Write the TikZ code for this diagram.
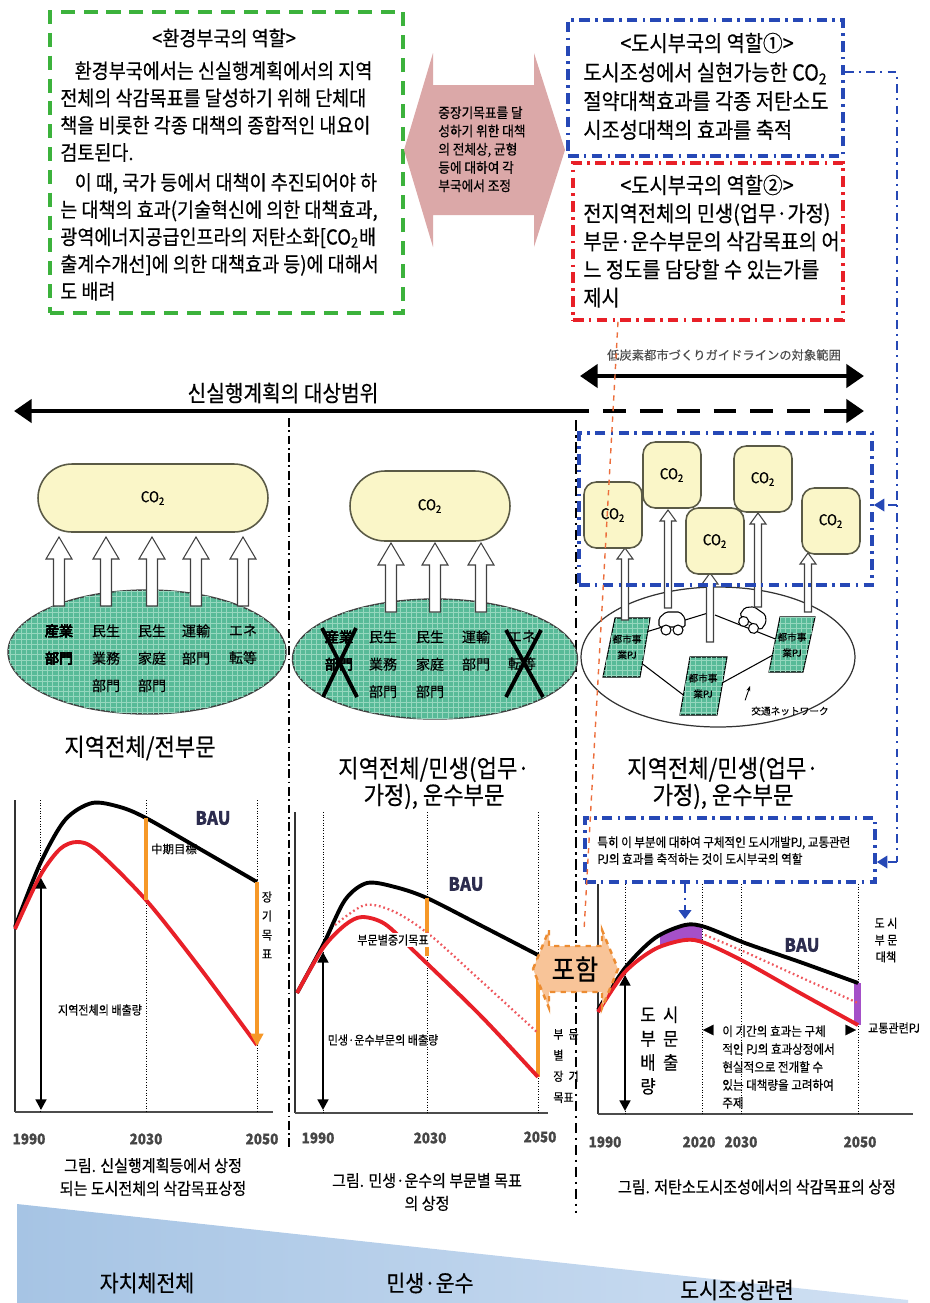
\documentclass[tikz,border=0pt]{standalone}
\usepackage{fontspec}
\setmainfont{Noto Sans CJK KR}[FakeStretch=0.9, FakeBold=0.4]
\newfontfamily\jpfont{Noto Sans CJK JP}[FakeBold=0.3]
\usetikzlibrary{arrows.meta,positioning,fit,shapes.geometric,shapes.misc,patterns}

\definecolor{envgreen}{RGB}{60,178,60}
\definecolor{cityblue}{RGB}{38,72,182}
\definecolor{cityred}{RGB}{232,32,40}
\definecolor{adjpink}{RGB}{219,168,168}
\definecolor{sectorgreen}{RGB}{88,186,152}
\definecolor{sectorgrid}{RGB}{150,215,190}
\definecolor{co2fill}{RGB}{250,246,200}
\definecolor{co2line}{RGB}{90,90,70}
\definecolor{goal}{RGB}{246,152,40}
\definecolor{measure}{RGB}{165,80,200}
\definecolor{incl}{RGB}{248,196,152}
\definecolor{incledge}{RGB}{236,140,50}
\definecolor{linkorange}{RGB}{236,110,60}
\definecolor{baulabel}{RGB}{44,44,78}
\definecolor{yeargrey}{RGB}{70,70,70}
\definecolor{bandleft}{RGB}{166,196,228}
\definecolor{bandright}{RGB}{208,224,243}

\newcommand*{\fsz}[2]{\fontsize{#1}{#2}\selectfont}
% white block arrow pointing up: x, foot y, tip y, half shaft, half head, head length
\newcommand*{\blockup}[6]{%
  \draw[fill=white, draw=black!75, line width=0.6pt]
    (#1-#4,#2) -- (#1-#4,#3+#6) -- (#1-#5,#3+#6) -- (#1,#3)
    -- (#1+#5,#3+#6) -- (#1+#4,#3+#6) -- (#1+#4,#2) -- cycle;}
% small car: x, y, angle
\newcommand*{\caricon}[3]{%
  \begin{scope}[shift={(#1,#2)}, rotate=#3]
    \draw[fill=white, line width=0.6pt, rounded corners=1pt]
      (-13,3) -- (-13,-6) -- (-6,-12) -- (8,-12) -- (13,-6) -- (13,3) -- cycle;
    \draw[fill=white, line width=0.6pt] (-6,6) circle[radius=5] (6,6) circle[radius=5];
  \end{scope}}

\tikzset{
  envbox/.style={draw=envgreen, line width=2.2pt, dash pattern=on 8pt off 5pt, inner sep=0pt},
  citybox/.style={line width=2pt, dash pattern=on 6pt off 3pt on 1.5pt off 3pt, inner sep=0pt},
  rail/.style={draw=cityblue, line width=1.4pt, dash pattern=on 5pt off 3pt on 1.2pt off 3pt},
  para/.style={inner sep=0pt, anchor=north west, align=left},
  capsule/.style={rounded rectangle, draw=co2line, fill=co2fill, line width=0.9pt, inner sep=0pt, font=\fsz{8.5}{9}},
  co2cell/.style={draw=co2line, fill=co2fill, line width=0.9pt, rounded corners=7pt,
    minimum width=1.16cm, minimum height=1.32cm, inner sep=0pt, font=\fsz{8.5}{9}},
  sector/.style={ellipse, draw=black!75, line width=0.8pt, fill=sectorgreen,
    postaction={pattern=grid, pattern color=sectorgrid}, inner sep=0pt},
  jplbl/.style={font=\jpfont\fsz{8}{15.6}, align=center, inner sep=0pt, anchor=north},
  pjlbl/.style={font=\jpfont\fsz{5.5}{9}, align=center, inner sep=0pt},
  rangearrow/.style={line width=2.8pt, {Triangle[length=10pt,width=13pt]}-{Triangle[length=10pt,width=13pt]}},
  bauline/.style={line width=2.2pt},
  cutline/.style={cityred, line width=2.2pt},
  cutdots/.style={cityred!75, line width=1.3pt, dash pattern=on 1pt off 1.6pt},
  dbl/.style={line width=1.6pt, {Triangle[length=6pt,width=6pt]}-{Triangle[length=6pt,width=6pt]}},
  goalbar/.style={draw=goal, line width=2.4pt},
  yearguide/.style={densely dotted, line width=0.5pt},
  yearlbl/.style={font=\bfseries\fsz{8.5}{9}, text=yeargrey},
  baulbl/.style={font=\bfseries\fsz{10.5}{11}, text=baulabel},
  smalllbl/.style={font=\fsz{7}{10}, inner sep=1pt, align=center},
  figcap/.style={font=\fsz{9.5}{13}, align=center},
  sectionlbl/.style={font=\fsz{14}{15.3}, align=center},
  net/.style={line width=0.6pt},
}

\begin{document}
\begin{tikzpicture}[x=0.02cm, y=-0.02cm]
\useasboundingbox (0,0) rectangle (930,1303);

% bottom band
\shade[left color=bandleft, right color=bandright] (17,1204) -- (908,1300) -- (908,1303) -- (17,1303) -- cycle;
\node[font=\fsz{13}{14}] (lvlall) at (147,1283) {자치체전체};
\node[font=\fsz{13}{14}] (lvlres) at (430,1283) {민생·운수};
\node[font=\fsz{13}{14}] (lvlcity) at (737,1290) {도시조성관련};

% role of the environment department
\node[envbox, fit={(50,12) (403,313)}] (envrole) {};
\node[font=\fsz{11.7}{12}] (envtitle) at (224,38) {<환경부국의 역할>};
\node[para, font=\fsz{11.7}{15.5}] (envtext) at (60,61) {%
  \hspace*{0.7em}환경부국에서는 신실행계획에서의 지역\\
  전체의 삭감목표를 달성하기 위해 단체대\\
  책을 비롯한 각종 대책의 종합적인 내요이\\
  검토된다.\\[1.5pt]
  \hspace*{0.7em}이 때, 국가 등에서 대책이 추진되어야 하\\
  는 대책의 효과(기술혁신에 의한 대책효과,\\
  광역에너지공급인프라의 저탄소화[CO\textsubscript{2}배\\
  출계수개선]에 의한 대책효과 등)에 대해서\\
  도 배려};

% coordination arrow
\fill[adjpink] (404,150) -- (433,53) -- (433,85) -- (534,85) -- (534,53) -- (565,150)
  -- (534,247) -- (534,215) -- (433,215) -- (433,247) -- cycle;
\node[para, font=\fsz{8}{10.4}] (adjtext) at (438,106) {중장기목표를 달\\성하기 위한 대책\\의 전체상, 균형\\등에 대하여 각\\부국에서 조정};

% roles of the city department
\node[citybox, draw=cityblue, fit={(568,20) (843,156)}] (roleone) {};
\node[font=\fsz{12.5}{13}] (onetitle) at (707,43) {<도시부국의 역할①>};
\node[para, font=\fsz{12.5}{16.4}] (onetext) at (583,62) {도시조성에서 실현가능한 CO\textsubscript{2}\\절약대책효과를 각종 저탄소도\\시조성대책의 효과를 축적};
\node[citybox, draw=cityred, fit={(573,163) (843,320)}] (roletwo) {};
\node[font=\fsz{12.5}{13}] (twotitle) at (707,185) {<도시부국의 역할②>};
\node[para, font=\fsz{12.5}{16}] (twotext) at (583,203) {전지역전체의 민생(업무·가정)\\부문·운수부문의 삭감목표의 어\\느 정도를 담당할 수 있는가를\\제시};

% target ranges
\node[font=\jpfont\fsz{7}{8}, text=black!70] (guidelbl) at (724,355) {低炭素都市づくりガイドラインの対象範囲};
\coordinate (guideL) at (580,376);
\coordinate (guideR) at (864,376);
\draw[rangearrow] (guideL) -- (guideR);
\node[font=\fsz{12.8}{14}] (planlbl) at (283,393) {신실행계획의 대상범위};
\coordinate (planL) at (14,411);
\coordinate (planM) at (566,411);
\coordinate (planR) at (864,411);
\draw[line width=2.8pt, {Triangle[length=10pt,width=13pt]}-] (planL) -- (planM);
\draw[line width=2.8pt, dash pattern=on 13pt off 8pt, -{Triangle[length=10pt,width=13pt]}] (planM) -- (planR);

% column dividers
\draw[line width=1pt, dash pattern=on 5pt off 2pt on 1pt off 2pt] (289,418) -- (289,1150);
\draw[line width=1.6pt, dash pattern=on 6pt off 2.5pt on 1.5pt off 2.5pt] (576,420) -- (576,1213);

% all sectors
\node[capsule, minimum width=4.6cm, minimum height=1.36cm] (co2all) at (153,498) {CO\textsubscript{2}};
\node[sector, minimum width=5.56cm, minimum height=2.48cm] (secall) at (147,652) {};
\foreach \x in {59,106,152,196,243}
  \blockup{\x}{606}{537}{5.5}{13}{22}
\node[jplbl] (a1) at (59,624) {産業\\部門};
\node[jplbl] (a2) at (106,624) {民生\\業務\\部門};
\node[jplbl] (a3) at (152,624) {民生\\家庭\\部門};
\node[jplbl] (a4) at (196,624) {運輸\\部門};
\node[jplbl] (a5) at (243,624) {エネ\\転等};
\node[sectionlbl] (allcap) at (140,748) {지역전체/전부문};

% residential and transport sectors
\node[capsule, minimum width=3.2cm, minimum height=1.4cm] (co2res) at (430,506) {CO\textsubscript{2}};
\node[sector, minimum width=5.7cm, minimum height=2.4cm] (secres) at (435,659) {};
\foreach \x in {391,435,481}
  \blockup{\x}{612}{543}{5.5}{13}{22}
\node[jplbl] (b1) at (339,630) {産業\\部門};
\node[jplbl] (b2) at (383,630) {民生\\業務\\部門};
\node[jplbl] (b3) at (430,630) {民生\\家庭\\部門};
\node[jplbl] (b4) at (476,630) {運輸\\部門};
\node[jplbl] (b5) at (522,630) {エネ\\転等};
\draw[line width=2.2pt] (322,628) -- (357,697) (356,628) -- (323,697);
\draw[line width=2.2pt] (506,630) -- (543,697) (541,630) -- (506,697);
\node[sectionlbl] (rescap) at (434,783) {지역전체/민생(업무·\\가정), 운수부문};

% city projects
\node[ellipse, draw=black!80, line width=0.7pt, fill=white, minimum width=5.48cm, minimum height=2.8cm] (cityarea) at (718,657) {};
\draw[net] (646,632) -- (708,613);
\draw[net] (715,615) -- (778,640);
\draw[net] (640,662) -- (686,697);
\draw[net] (722,683) -- (773,655);
\foreach \p in {{(615,618) -- (650,618) -- (640,677) -- (603,677)},
                {(690,657) -- (727,657) -- (717,715) -- (680,715)},
                {(780,617) -- (815,617) -- (803,672) -- (769,672)}}
  \draw[fill=sectorgreen, line width=0.6pt, postaction={pattern=grid, pattern color=sectorgrid}] \p -- cycle;
\node[pjlbl] (pja) at (627,647) {都市事\\業PJ};
\node[pjlbl] (pjb) at (703,686) {都市事\\業PJ};
\node[pjlbl] (pjc) at (792,645) {都市事\\業PJ};
\caricon{672}{624}{0}
\caricon{752}{620}{-35}
\node[font=\jpfont\fsz{5.5}{6}] (netlbl) at (790,711) {交通ネットワーク};
\draw[-{Stealth[length=3pt]}, line width=0.5pt] (netlbl.north west) -- (750,686);
\blockup{625}{620}{548}{3.5}{8}{11}
\blockup{668}{608}{510}{3.5}{8}{11}
\blockup{710}{642}{573}{3.5}{8}{11}
\blockup{758}{607}{513}{3.5}{8}{11}
\blockup{808}{612}{553}{3.5}{8}{11}
\node[co2cell] (c1) at (613,515) {CO\textsubscript{2}};
\node[co2cell] (c2) at (672,475) {CO\textsubscript{2}};
\node[co2cell] (c4) at (763,479) {CO\textsubscript{2}};
\node[co2cell] (c3) at (715,541) {CO\textsubscript{2}};
\node[co2cell] (c5) at (831,521) {CO\textsubscript{2}};
\node[citybox, draw=cityblue, fit={(579,433) (872,585)}] (citygroup) {};
\node[sectionlbl] (citycap) at (723,783) {지역전체/민생(업무·\\가정), 운수부문};

% chart: whole area
\draw[line width=1.2pt, black!80] (15,800) -- (15,1112);
\draw[line width=1.6pt, black!70] (15,1112) -- (273,1112);
\foreach \x in {40,146,257}
  \draw[yearguide] (\x,800) -- (\x,1112);
\draw[bauline] plot[smooth] coordinates {(15,927) (40,864) (65,820) (92,803) (120,807) (146,818) (200,849) (257,882)};
\draw[cutline] plot[smooth] coordinates {(15,929) (40,876) (60,849) (77,842) (96,850) (146,900) (200,968) (257,1045)};
\draw[goalbar] (146,818) -- (146,900);
\draw[goalbar, -{Triangle[length=7pt,width=7pt]}] (257,882) -- (257,1046);
\draw[dbl] (41,878) -- (41,1110);
\node[baulbl] (bau1) at (213,818) {BAU};
\node[font=\jpfont\fsz{6.5}{7}] (mid1) at (174,849) {中期目標};
\node[smalllbl, font=\fsz{7}{10.8}] (long1) at (267,925) {장\\기\\목\\표};
\node[smalllbl] (emit1) at (100,1010) {지역전체의 배출량};
\node[yearlbl] at (29,1139) {1990};
\node[yearlbl] at (146,1139) {2030};
\node[yearlbl] at (262,1139) {2050};
\node[figcap] (cap1) at (153,1177) {그림. 신실행계획등에서 상정\\되는 도시전체의 삭감목표상정};

% chart: residential and transport
\draw[line width=1.2pt, black!80] (295,812) -- (295,1113);
\draw[line width=1.6pt, black!70] (295,1113) -- (548,1113);
\foreach \x in {323,427,538}
  \draw[yearguide] (\x,812) -- (\x,1113);
\draw[bauline] plot[smooth] coordinates {(297,993) (323,945) (345,900) (367,883) (395,887) (427,898) (480,925) (538,955)};
\draw[goalbar] (427,898) -- (427,956);
\draw[goalbar] (538,958) -- (538,1077);
\draw[cutdots] plot[smooth] coordinates {(335,925) (365,905) (395,912) (430,935) (480,980) (538,1033)};
\draw[cutline] plot[smooth] coordinates {(297,993) (323,948) (345,925) (362,917) (385,924) (415,952) (480,1015) (538,1077)};
\draw[dbl] (323,952) -- (323,1110);
\node[baulbl] (bau2) at (466,884) {BAU};
\node[smalllbl, fill=white] (mid2) at (393,940) {부문별중기목표};
\node[smalllbl] (emit2) at (383,1040) {민생·운수부문의 배출량};
\node[smalllbl, font=\fsz{7}{12}, align=left] (long2) at (566,1066) {부\ \ 문\\별\\장\ \ 기\\목표};
\node[yearlbl] at (318,1138) {1990};
\node[yearlbl] at (430,1138) {2030};
\node[yearlbl] at (540,1137) {2050};
\node[figcap] (cap2) at (427,1192) {그림. 민생·운수의 부문별 목표\\의 상정};

% chart: low-carbon city
\node[citybox, draw=cityblue, fit={(585,818) (875,882)}] (notebox) {};
\node[para, font=\fsz{7.3}{9.6}] (notetext) at (597,836) {특히 이 부분에 대하여 구체적인 도시개발PJ, 교통관련\\PJ의 효과를 축적하는 것이 도시부국의 역할};
\draw[line width=1.2pt, black!80] (598,884) -- (598,1114);
\draw[line width=1.6pt, black!70] (598,1114) -- (913,1114);
\foreach \x in {625,702,741,858}
  \draw[yearguide] (\x,884) -- (\x,1114);
\fill[measure] (660,936) -- (672,930) -- (685,925) -- (702,927) -- (702,943) -- (685,940) -- (672,942) -- (660,947) -- cycle;
\fill[measure] (854,983) rectangle (861,1025);
\draw[bauline] plot[smooth] coordinates {(598,1010) (625,968) (655,938) (685,925) (705,927) (745,943) (800,962) (858,983)};
\draw[cutdots] plot[smooth] coordinates {(705,935) (745,952) (800,977) (858,1003)};
\draw[cutline] plot[smooth] coordinates {(598,1012) (625,972) (655,949) (685,940) (705,943) (745,962) (800,993) (858,1025)};
\draw[dbl] (625,975) -- (625,1111);
\coordinate (spanL) at (703,1030);
\coordinate (spanR) at (856,1030);
\draw[draw=white, line width=0.1pt, {Triangle[color=black,length=6pt,width=6pt]}-{Triangle[color=black,length=6pt,width=6pt]}] (spanL) -- (spanR);
\node[baulbl] (bau3) at (802,945) {BAU};
\node[para, font=\fsz{10.5}{13.6}] (cityemit) at (640,1006) {도\ \ 시\\부\ \ 문\\배\ \ 출\\량};
\node[para, font=\fsz{7.3}{10.2}] (period) at (722,1025) {이 기간의 효과는 구체\\적인 PJ의 효과상정에서\\현실적으로 전개할 수\\있는 대책량을 고려하여\\주제};
\node[smalllbl, font=\fsz{7}{9.6}] (citymeas) at (886,940) {도\ 시\\부\ 문\\대책};
\node[smalllbl, anchor=west] (trafpj) at (866,1028) {교통관련PJ};
\node[yearlbl] at (605,1142) {1990};
\node[yearlbl] at (699,1142) {2020};
\node[yearlbl] at (741,1142) {2030};
\node[yearlbl] at (860,1142) {2050};
\node[figcap] (cap3) at (757,1187) {그림. 저탄소도시조성에서의 삭감목표의 상정};
\coordinate (peakmark) at (685,919);
\draw[rail, -{Triangle[length=5pt,width=7pt]}] (notebox.south -| peakmark) -- (peakmark);

% inclusion marker
\path[fill=incl, draw=incledge, dashed, line width=1.4pt] (533,969) -- (549,930) -- (549,946) -- (602,946) -- (602,930) -- (618,969)
  -- (602,1008) -- (602,992) -- (549,992) -- (549,1008) -- cycle;
\node[font=\fsz{16}{18}] (incl) at (575,969) {포함};

% links between roles and figures
\coordinate (railtop) at (897,72);
\coordinate (railmid) at (897,505);
\coordinate (railbot) at (897,862);
\draw[rail] (roleone.east |- railtop) -- (railtop) -- (railbot);
\draw[rail, -{Triangle[length=6pt,width=7pt]}] (railmid) -- (railmid -| citygroup.east);
\draw[rail, -{Triangle[length=6pt,width=7pt]}] (railbot) -- (railbot -| notebox.east);
\coordinate (linkx) at (618,0);
\coordinate (linkfoot) at (584,931);
\draw[linkorange, dashed, line width=0.8pt] (roletwo.south -| linkx) -- (linkfoot);
\end{tikzpicture}
\end{document}
